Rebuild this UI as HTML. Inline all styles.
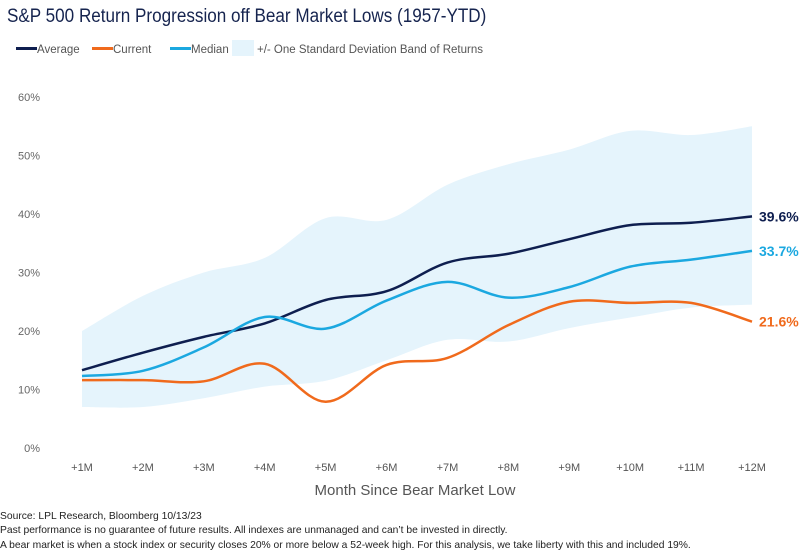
<!DOCTYPE html>
<html><head><meta charset="utf-8"><style>
body{margin:0;background:#fff;font-family:"Liberation Sans",sans-serif;}
#wrap{position:relative;width:804px;height:558px;overflow:hidden;}
.t{position:absolute;white-space:nowrap;}
</style></head><body>
<div id="wrap">
<div class="t" style="left:7px;top:6px;font-size:19px;color:#16244f;transform:scaleX(0.9);transform-origin:0 0;">S&amp;P 500 Return Progression off Bear Market Lows (1957-YTD)</div>
<svg id="svg" width="804" height="558" style="position:absolute;left:0;top:0"></svg>
<div class="t" style="left:0;top:511px;font-size:10.3px;color:#222;">Source: LPL Research, Bloomberg 10/13/23</div>
<div class="t" style="left:0;top:525px;font-size:10.3px;color:#222;">Past performance is no guarantee of future results. All indexes are unmanaged and can’t be invested in directly.</div>
<div class="t" style="left:0;top:540px;font-size:10.3px;color:#222;">A bear market is when a stock index or security closes 20% or more below a 52-week high. For this analysis, we take liberty with this and included 19%.</div>
</div>
<script>
const categories=["+1M","+2M","+3M","+4M","+5M","+6M","+7M","+8M","+9M","+10M","+11M","+12M"];
const yTicks=[0,10,20,30,40,50,60];
const bandUpper=[20,26,30,32.5,39.3,39,45,48.5,51,54.2,53.5,55];
const bandLower=[7,7,8.5,10.5,11.5,15,18.5,18.2,20.5,22.3,24,24.5];
const average=[13.3,16.3,19,21.3,25.3,26.8,31.7,33.2,35.7,38.1,38.5,39.6];
const median=[12.3,13.2,17.2,22.4,20.4,25.2,28.4,25.7,27.5,31,32.2,33.7];
const current=[11.6,11.6,11.4,14.4,7.9,14.2,15.4,21,25,24.8,24.8,21.6];
const NS="http://www.w3.org/2000/svg";
const svg=document.getElementById('svg');
const x=i=>82+i*(752-82)/(categories.length-1);
const y=v=>448-v*(448-97)/60;
function mk(t,a){const e=document.createElementNS(NS,t);for(const k in a)e.setAttribute(k,a[k]);svg.appendChild(e);return e;}
function smooth(pts,move){let d=move?`M${pts[0][0]},${pts[0][1]}`:`L${pts[0][0]},${pts[0][1]}`;
for(let i=0;i<pts.length-1;i++){const p0=pts[i-1]||pts[i],p1=pts[i],p2=pts[i+1],p3=pts[i+2]||p2;const k=6;
d+=` C${p1[0]+(p2[0]-p0[0])/k},${p1[1]+(p2[1]-p0[1])/k} ${p2[0]-(p3[0]-p1[0])/k},${p2[1]-(p3[1]-p1[1])/k} ${p2[0]},${p2[1]}`;}return d;}
const P=a=>a.map((v,i)=>[x(i),y(v)]);
let up=P(bandUpper),lo=P(bandLower).reverse();
let band=mk('path',{d:smooth(up,true)+' '+smooth(lo,false)+' Z',fill:'#e5f4fc'});


yTicks.forEach(v=>{const t=mk('text',{x:40,y:y(v)+4,'text-anchor':'end','font-size':11,fill:'#666'});t.textContent=v+'%';

});
categories.forEach((c,i)=>{const t=mk('text',{x:x(i),y:471,'text-anchor':'middle','font-size':11,fill:'#555'});t.textContent=c;

});
const xt=mk('text',{x:415,y:495,'text-anchor':'middle','font-size':15,fill:'#555'});xt.textContent='Month Since Bear Market Low';


[[average,'#0e1e4f','average-line','39.6%'],[median,'#1ba8e0','median-line','33.7%'],[current,'#f06a1c','current-line','21.6%']].forEach(([arr,col,nm,lab])=>{
const p=mk('path',{d:smooth(P(arr),true),fill:'none',stroke:col,'stroke-width':2.5});


const t=mk('text',{x:759,y:y(arr[arr.length-1])+5,'font-size':14,'font-weight':'bold',fill:col});t.textContent=lab;

});
const leg=[['line','#0e1e4f',16,'Average'],['line','#f06a1c',92,'Current'],['line','#1ba8e0',170,'Median'],['rect','#e5f4fc',232,'+/- One Standard Deviation Band of Returns']];
leg.forEach(([k,c,lx,txt])=>{let m;
if(k==='line'){m=mk('rect',{x:lx,y:47,width:21,height:3,fill:c});}else{m=mk('rect',{x:lx,y:40,width:22,height:16,fill:c});}


const t=mk('text',{x:k==='line'?lx+21:lx+25,y:53,'font-size':11.5,fill:'#555',textLength:null});t.removeAttribute('textLength');t.textContent=txt;

});
</script>
</body></html>
